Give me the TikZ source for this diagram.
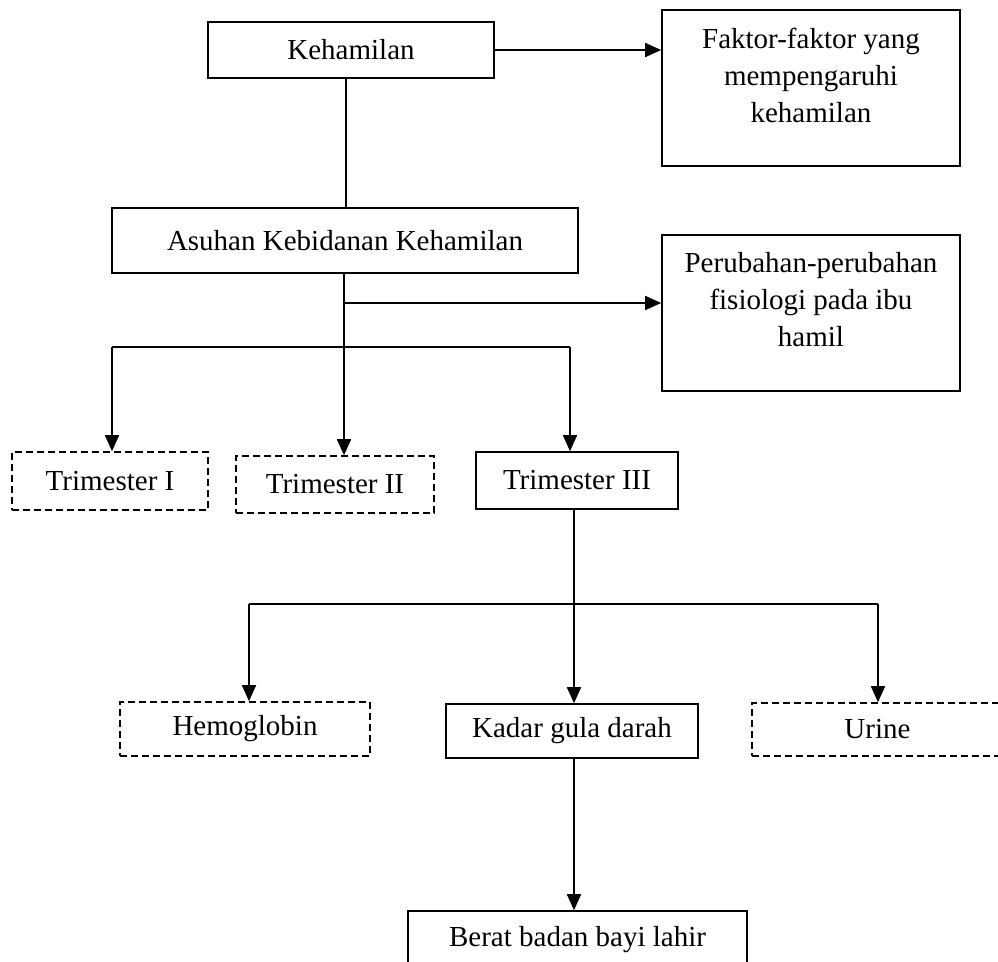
\documentclass[tikz,border=0pt]{standalone}
\usepackage{fontspec}
\setmainfont{Liberation Serif}
\usetikzlibrary{arrows.meta}
\begin{document}
\begin{tikzpicture}[x=1pt,y=-1pt,
  box/.style={draw, line width=1.6pt, rectangle, inner sep=0pt, align=center, font=\fontsize{29pt}{37pt}\selectfont},
  dbox/.style={box, dash pattern=on 7pt off 4pt},
  txt/.style={inner sep=0pt, align=center, font=\fontsize{29pt}{37pt}\selectfont},
  conn/.style={line width=1.7pt},
  arr/.style={conn, -{Triangle[length=16pt,width=14pt]}}]
\useasboundingbox (0,0) rectangle (998,961);

% boxes
\node[box, minimum width=286pt, minimum height=56pt] (keh) at (351,50) {Kehamilan};
\node[box, minimum width=298pt, minimum height=156pt] (fak) at (811,88) {};
\node[txt] (fakt) at (811,75) {Faktor-faktor yang\\mempengaruhi\\kehamilan};
\node[box, minimum width=466pt, minimum height=65pt] (asu) at (345,240.5) {Asuhan Kebidanan Kehamilan};
\node[box, minimum width=298pt, minimum height=156pt] (per) at (811,313) {};
\node[txt] (pert) at (811,300) {Perubahan-perubahan\\fisiologi pada ibu\\hamil};

\node[dbox, minimum width=196pt, minimum height=58pt] (tr1) at (110,481) {Trimester I};
\node[dbox, minimum width=198pt, minimum height=57pt] (tr2) at (335,484.5) {Trimester II};
\node[box, minimum width=202pt, minimum height=57pt] (tr3) at (577,480.5) {Trimester III};

\node[dbox, minimum width=250pt, minimum height=54pt] (hem) at (245,729) {Hemoglobin};
\node[box, minimum width=252pt, minimum height=54pt] (kad) at (572,731) {Kadar gula darah};
\node[dbox, minimum width=251pt, minimum height=53pt] (uri) at (877.5,729.5) {Urine};

\node[box, minimum width=339pt, minimum height=58pt] (ber) at (577.5,940) {Berat badan bayi lahir};

% junction coordinates
\coordinate (ja) at (346,78);
\coordinate (jb) at (344,273);
\coordinate (jc) at (344,303);
\coordinate (jl) at (112,347);
\coordinate (jm) at (344,347);
\coordinate (jr) at (570,347);
\coordinate (kt) at (574,509);
\coordinate (kl) at (249,604);
\coordinate (km) at (574,604);
\coordinate (kr) at (878,604);
\coordinate (lb) at (574,758);

% connectors
\draw[conn] (ja) -- (ja |- asu.north);
\draw[arr] (keh.east) -- (keh.east -| fak.west);
\draw[arr] (jc) -- (jc -| per.west);
\draw[conn] (jl) -- (jr);
\draw[arr] (jb) -- (jb |- tr2.north);
\draw[arr] (jl) -- (jl |- tr1.north);
\draw[arr] (jr) -- (jr |- tr3.north);

\draw[conn] (kl) -- (kr);
\draw[arr] (kt) -- (kt |- kad.north);
\draw[arr] (kl) -- (kl |- hem.north);
\draw[arr] (kr) -- (kr |- uri.north);

\draw[arr] (lb) -- (lb |- ber.north);
\end{tikzpicture}
\end{document}
